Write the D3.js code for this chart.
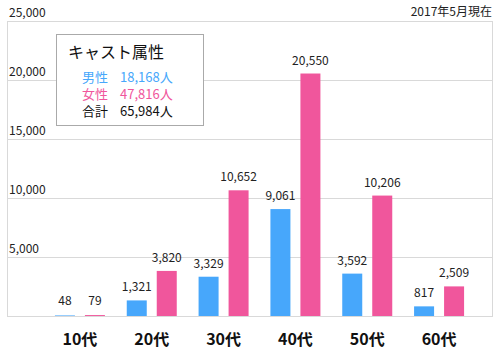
<!DOCTYPE html>
<html><head><meta charset="utf-8">
<script src="https://cdn.jsdelivr.net/npm/d3@7"></script>
<style>body{margin:0;background:#fff}svg{display:block;font-family:"Noto Sans CJK JP","Noto Sans",sans-serif}</style>
</head><body>
<svg id="c" width="500" height="360"></svg>
<script>
const categories = ["10代","20代","30代","40代","50代","60代"];
const male = [48,1321,3329,9061,3592,817];
const female = [79,3820,10652,20550,10206,2509];
const yTicks = [5000,10000,15000,20000,25000];
const legendTitle = "キャスト属性";
const legendRows = [["男性","18,168人"],["女性","47,816人"],["合計","65,984人"]];
const note = "2017年5月現在";

(function(){
const blue = "#47a7fb", pink = "#f0569c", grid = "#d9d9d9";
const svg = d3.select("#c");
const pLeft = 7, pRight = 492, pTop = 21, pBottom = 316;
const y = d3.scaleLinear().domain([0,25000]).range([pBottom, pTop]);
const x = d3.scaleBand().domain(categories).range([44, 475]);
const fmt = d3.format(",");

svg.append("g").selectAll("line").data(yTicks).join("line")
  .attr("x1", pLeft).attr("x2", pRight)
  .attr("y1", d => y(d)+0.5).attr("y2", d => y(d)+0.5)
  .attr("stroke", grid);
svg.append("line").attr("x1",pLeft+0.5).attr("x2",pLeft+0.5).attr("y1",y(25000)).attr("y2",pBottom+0.5).attr("stroke",grid);
svg.append("line").attr("x1",pRight+0.5).attr("x2",pRight+0.5).attr("y1",y(25000)).attr("y2",pBottom+0.5).attr("stroke",grid);
svg.append("line").attr("x1",pLeft).attr("x2",pRight+1).attr("y1",pBottom+0.5).attr("y2",pBottom+0.5).attr("stroke",grid);

svg.append("g").selectAll("text").data(yTicks).join("text")
  .attr("x", 9).attr("y", d => y(d) - 4)
  .attr("font-size", 12).attr("fill", "#222")
  .text(d => fmt(d));

svg.append("text").attr("x", 492).attr("y", 16).attr("text-anchor","end")
  .attr("font-size", 12).attr("fill","#222").text(note);

const cx = d => x(d) + x.bandwidth()/2;
const bw = 20;
const g = svg.append("g");
g.selectAll(".m").data(categories).join("rect").attr("class","m")
  .attr("x", d => cx(d) - 25).attr("width", bw)
  .attr("y", (d,i) => y(male[i])).attr("height", (d,i) => pBottom - y(male[i]))
  .attr("fill", blue);
g.selectAll(".f").data(categories).join("rect").attr("class","f")
  .attr("x", d => cx(d) + 5).attr("width", bw)
  .attr("y", (d,i) => y(female[i])).attr("height", (d,i) => pBottom - y(female[i]))
  .attr("fill", pink);
g.selectAll(".ml").data(categories).join("text").attr("class","ml")
  .attr("x", d => cx(d) - 15).attr("y", (d,i) => Math.min(y(male[i]), pBottom-2) - 9)
  .attr("text-anchor","middle").attr("font-size",12).attr("fill","#222")
  .text((d,i) => fmt(male[i]));
g.selectAll(".fl").data(categories).join("text").attr("class","fl")
  .attr("x", d => cx(d) + 15).attr("y", (d,i) => Math.min(y(female[i]), pBottom-2) - 9)
  .attr("text-anchor","middle").attr("font-size",12).attr("fill","#222")
  .text((d,i) => fmt(female[i]));

svg.append("g").selectAll("text").data(categories).join("text")
  .attr("x", d => cx(d)).attr("y", 345)
  .attr("text-anchor","middle").attr("font-size",16).attr("font-weight","bold").attr("fill","#111")
  .text(d => d);

const lg = svg.append("g");
lg.append("rect").attr("x",56.5).attr("y",34.5).attr("width",147).attr("height",91)
  .attr("fill","#fff").attr("stroke","#aaa");
lg.append("text").attr("x",68).attr("y",58).attr("font-size",16).attr("fill","#111").text(legendTitle);
const rowColors = [blue, pink, "#111"];
legendRows.forEach((r,i) => {
  lg.append("text").attr("x",82).attr("y",82 + i*17).attr("font-size",13).attr("fill",rowColors[i]).text(r[0]);
  lg.append("text").attr("x",120).attr("y",82 + i*17).attr("font-size",13).attr("fill",rowColors[i]).text(r[1]);
});
})();
</script>
</body></html>
